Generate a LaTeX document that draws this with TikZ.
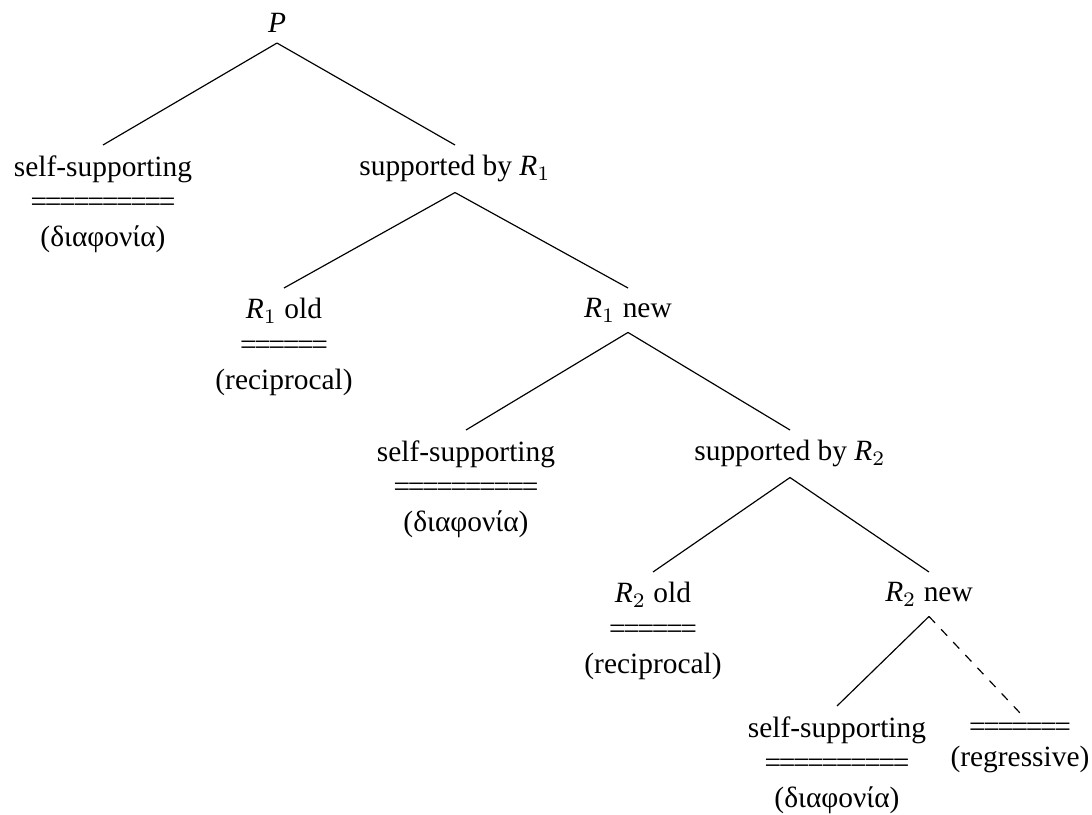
\documentclass[tikz,border=0pt]{standalone}
\usepackage{fontspec}
\setmainfont{Liberation Serif}
\newfontfamily\eqfont[LetterSpace=-8]{Liberation Serif}
\usepackage{tikz}

\begin{document}
\begin{tikzpicture}[x=0.34pt,y=-0.34pt,
    leaf/.style={align=center,anchor=north,font=\fontsize{10}{12}\selectfont},
    branch/.style={thin,black}]
\useasboundingbox (0,0) rectangle (1092,815);
\node[leaf] (P) at (277,3) {$\mathit{P}$};
\node[leaf] (ss1) at (103,145) {self-supporting\\{\eqfont ==========}\\(διαφονία)};
\node[leaf] (sup1) at (455,145) {supported by $\mathit{R}_1$};
\node[leaf] (old1) at (284,288) {$\mathit{R}_1$ old\\{\eqfont ======}\\(reciprocal)};
\node[leaf] (new1) at (628,288) {$\mathit{R}_1$ new};
\node[leaf] (ss2) at (466,430) {self-supporting\\{\eqfont ==========}\\(διαφονία)};
\node[leaf] (sup2) at (790,430) {supported by $\mathit{R}_2$};
\node[leaf] (old2) at (653,572) {$\mathit{R}_2$ old\\{\eqfont ======}\\(reciprocal)};
\node[leaf] (new2) at (929,572) {$\mathit{R}_2$ new};
\node[leaf] (ss3) at (837,706) {self-supporting\\{\eqfont ==========}\\(διαφονία)};
\node[leaf] (reg) at (1020,713) {{\eqfont =======}\\[-2pt](regressive)};

\draw[branch] (P.south) -- (ss1.north);
\draw[branch] (P.south) -- (sup1.north);
\draw[branch] (sup1.south) -- (old1.north);
\draw[branch] (sup1.south) -- (new1.north);
\draw[branch] (new1.south) -- (ss2.north);
\draw[branch] (new1.south) -- (sup2.north);
\draw[branch] (sup2.south) -- (old2.north);
\draw[branch] (sup2.south) -- (new2.north);
\draw[branch] (new2.south) -- (ss3.north);
\draw[branch,dashed] (new2.south) -- (reg.north);
\end{tikzpicture}
\end{document}
